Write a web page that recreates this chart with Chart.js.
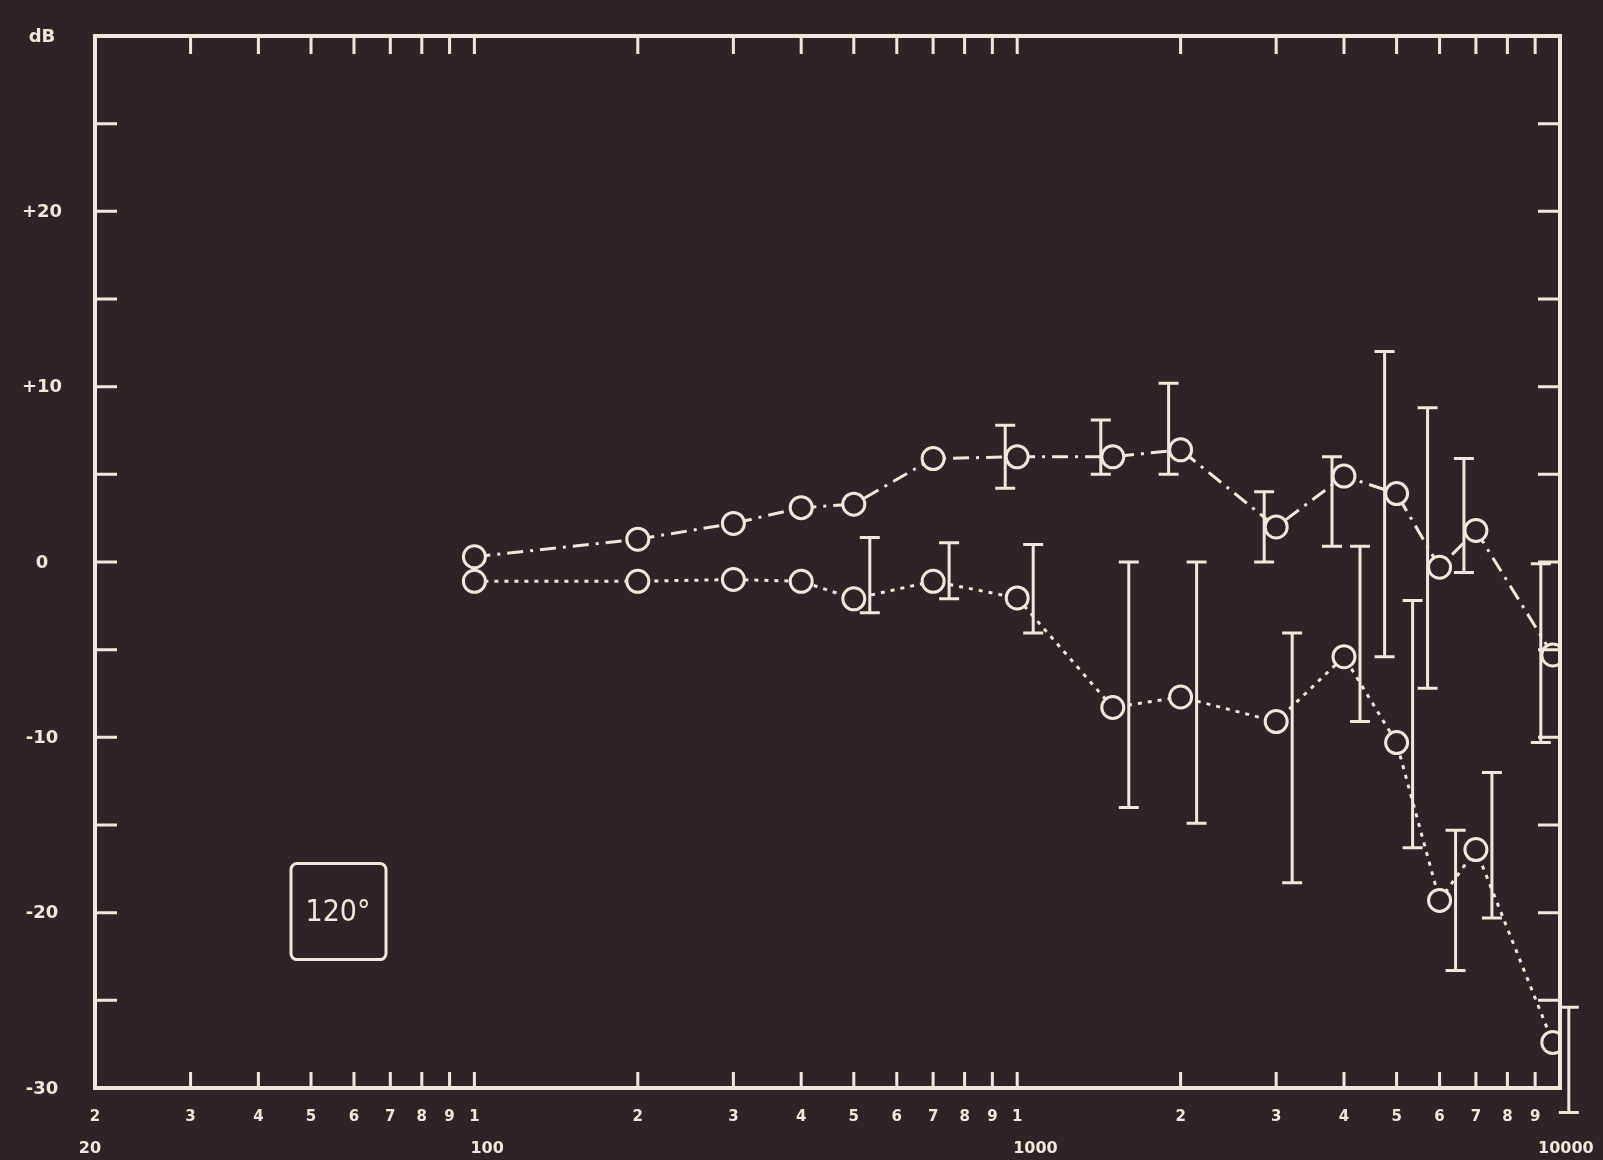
<!DOCTYPE html>
<html>
<head>
<meta charset="utf-8">
<script src="https://cdn.jsdelivr.net/npm/chart.js@4.4.1/dist/chart.umd.min.js"></script>
<style>
  html, body { margin: 0; padding: 0; background: #2c2427; }
  #wrap { width: 1603px; height: 1160px; }
</style>
</head>
<body>
<div id="wrap"><canvas id="chart" width="1603" height="1160"></canvas></div>
<script>
// frequencies (Hz) shared by both curves
const frequencies = [100, 200, 300, 400, 500, 700, 1000, 1500, 2000, 3000, 4000, 5000, 6000, 7000, 9700];

// upper curve (dash-dot)
const upperLevels = [0.3, 1.3, 2.2, 3.1, 3.3, 5.9, 6.0, 6.0, 6.4, 2.0, 4.9, 3.9, -0.3, 1.8, -5.3];
const upperHigh = [null, null, null, null, null, null, 7.8, 8.1, 10.2, 4.0, 6.0, 12.0, 8.8, 5.9, -0.1];
const upperLow = [null, null, null, null, null, null, 4.2, 5.0, 5.0, 0.0, 0.9, -5.4, -7.2, -0.6, -10.3];

// lower curve (dotted)
const lowerLevels = [-1.1, -1.1, -1.0, -1.1, -2.1, -1.1, -2.05, -8.3, -7.7, -9.1, -5.4, -10.3, -19.3, -16.4, -27.4];
const lowerHigh = [null, null, null, null, 1.4, 1.1, 1.0, 0.0, 0.0, -4.05, 0.9, -2.2, -15.3, -12.0, -25.4];
const lowerLow = [null, null, null, null, -2.9, -2.1, -4.05, -14.0, -14.9, -18.3, -9.1, -16.3, -23.3, -20.3, -31.4];

// axis ticks and labels
const xTickValues = [20, 30, 40, 50, 60, 70, 80, 90,
  100, 200, 300, 400, 500, 600, 700, 800, 900,
  1000, 2000, 3000, 4000, 5000, 6000, 7000, 8000, 9000, 10000];
const xDecadeValues = [20, 100, 1000, 10000];
const xDecadeLabels = ["20", "100", "1000", "10000"];
const yTickValues = [-30, -25, -20, -15, -10, -5, 0, 5, 10, 15, 20, 25, 30];
const yLabelValues = [30, 20, 10, 0, -10, -20, -30];
const yLabelTexts = ["dB", "+20", "+10", "0", "-10", "-20", "-30"];
const angleLabel = "120°";

const INK = "#eee9dc";
const PAPER = "#2c2427";
const LABEL_FONT = "'DejaVu Sans', sans-serif";

const points = (levels) => frequencies.map((f, i) => ({ x: f, y: levels[i] }));

const errorBars = {
  id: "errorBars",
  afterDatasetsDraw(chart) {
    const { ctx } = chart;
    const { x, y } = chart.scales;
    chart.data.datasets.forEach((ds) => {
      if (!ds.errHigh) return;
      ctx.save();
      ctx.strokeStyle = INK;
      ctx.lineWidth = 3;
      ctx.lineCap = "butt";
      ds.errHigh.forEach((hi, i) => {
        const lo = ds.errLow[i];
        if (hi === null || lo === null) return;
        const px = x.getPixelForValue(frequencies[i]) + ds.errOffset;
        const top = y.getPixelForValue(hi);
        const bot = y.getPixelForValue(lo);
        ctx.beginPath();
        ctx.moveTo(px, top);
        ctx.lineTo(px, bot);
        ctx.moveTo(px - 10, top);
        ctx.lineTo(px + 10, top);
        ctx.moveTo(px - 10, bot);
        ctx.lineTo(px + 10, bot);
        ctx.stroke();
      });
      ctx.restore();
    });
  },
};

const frame = {
  id: "frame",
  afterDraw(chart) {
    const { ctx, chartArea } = chart;
    const { left, right, top, bottom } = chartArea;
    const { x, y } = chart.scales;
    ctx.save();
    ctx.strokeStyle = INK;
    ctx.lineWidth = 4;
    ctx.strokeRect(left, top, right - left, bottom - top);

    ctx.lineWidth = 3;
    ctx.beginPath();
    yTickValues.slice(1, -1).forEach((v) => {
      const py = y.getPixelForValue(v);
      ctx.moveTo(left, py);
      ctx.lineTo(left + 22, py);
      ctx.moveTo(right, py);
      ctx.lineTo(right - 22, py);
    });
    xTickValues.slice(1, -1).forEach((v) => {
      const px = x.getPixelForValue(v);
      ctx.moveTo(px, bottom);
      ctx.lineTo(px, bottom - 16);
      ctx.moveTo(px, top);
      ctx.lineTo(px, top + 18);
    });
    ctx.stroke();

    ctx.fillStyle = INK;
    ctx.textBaseline = "middle";

    // dB labels, centred in the left margin
    ctx.font = "bold 18px " + LABEL_FONT;
    ctx.textAlign = "center";
    yLabelValues.forEach((v, i) => {
      ctx.fillText(yLabelTexts[i], left - 53, y.getPixelForValue(v) + 1);
    });

    // decade labels under the digit row
    ctx.font = "bold 16px " + LABEL_FONT;
    xDecadeValues.forEach((v, i) => {
      const px = x.getPixelForValue(v);
      ctx.textAlign = i === 0 ? "center" : "left";
      const shift = i === 0 ? -5 : (i === xDecadeValues.length - 1 ? -22 : -4);
      ctx.fillText(xDecadeLabels[i], px + shift, x.top + 61);
    });

    // boxed angle label
    const bx = left + 196, by = y.getPixelForValue(-17.2);
    ctx.lineWidth = 3;
    ctx.beginPath();
    ctx.roundRect(bx, by, 95, 96, 6);
    ctx.stroke();
    ctx.font = "30px 'DejaVu Sans Condensed', 'DejaVu Sans', sans-serif";
    ctx.textAlign = "center";
    ctx.fillText(angleLabel, bx + 47, by + 50);
    ctx.restore();
  },
};

new Chart(document.getElementById("chart"), {
  type: "line",
  data: {
    datasets: [
      {
        label: "upper",
        data: points(upperLevels),
        borderColor: INK,
        borderWidth: 3,
        borderDash: [16, 7, 3, 7],
        pointRadius: 11,
        pointBorderWidth: 3,
        pointBorderColor: INK,
        pointBackgroundColor: PAPER,
        tension: 0,
        fill: false,
        errHigh: upperHigh,
        errLow: upperLow,
        errOffset: -12,
      },
      {
        label: "lower",
        data: points(lowerLevels),
        borderColor: INK,
        borderWidth: 3,
        borderDash: [4, 6],
        pointRadius: 11,
        pointBorderWidth: 3,
        pointBorderColor: INK,
        pointBackgroundColor: PAPER,
        tension: 0,
        fill: false,
        errHigh: lowerHigh,
        errLow: lowerLow,
        errOffset: 16,
      },
    ],
  },
  options: {
    responsive: false,
    animation: false,
    layout: { padding: { top: 36, right: 43, left: 0, bottom: 0 } },
    plugins: { legend: { display: false }, tooltip: { enabled: false } },
    scales: {
      x: {
        type: "logarithmic",
        min: 20,
        max: 10000,
        afterBuildTicks: (s) => { s.ticks = xTickValues.map((v) => ({ value: v })); },
        afterFit: (s) => { s.height = 72; },
        grid: { display: false, drawTicks: false },
        border: { display: false },
        ticks: {
          autoSkip: false,
          maxRotation: 0,
          minRotation: 0,
          padding: 20,
          color: INK,
          font: { family: LABEL_FONT, size: 15, weight: "bold" },
          callback: (v) => (v === 10000 ? "" : String(v)[0]),
        },
      },
      y: {
        min: -30,
        max: 30,
        afterBuildTicks: (s) => { s.ticks = yTickValues.map((v) => ({ value: v })); },
        afterFit: (s) => { s.width = 95; },
        grid: { display: false, drawTicks: false },
        border: { display: false },
        ticks: { display: false },
      },
    },
  },
  plugins: [errorBars, frame],
});
</script>
</body>
</html>
